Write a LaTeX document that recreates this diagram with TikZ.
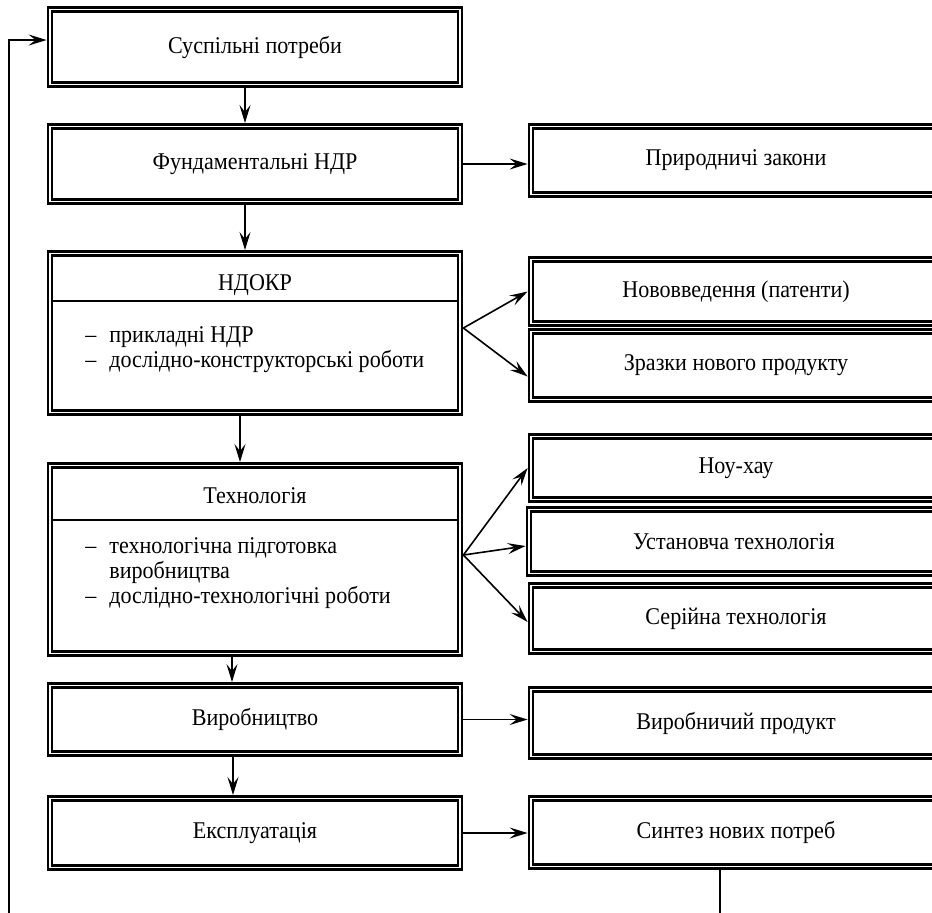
\documentclass[tikz,border=0pt]{standalone}
\usepackage{fontspec}
\setmainfont{Liberation Serif}[FakeStretch=0.92]
\usepackage{tikz}
\usetikzlibrary{arrows.meta}

\begin{document}
\begin{tikzpicture}[x=0.5pt,y=-0.5pt,
  box/.style={draw,double,double distance=0.8pt,line width=1.3pt,inner sep=0pt,
    outer sep=1.7pt,minimum width=205pt,font=\fontsize{12}{12.5}\selectfont},
  txt/.style={inner sep=0pt,align=left,font=\fontsize{12}{12.5}\selectfont},
  arr/.style={-{Stealth[length=9pt,width=5.5pt,inset=3.5pt]},line width=0.8pt}]
\clip (0,0) rectangle (932,912);
% left column
\node[box,minimum height=37.6pt] (sp) at (255,47) {Суспільні потреби};
\node[box,minimum height=37.6pt] (fund) at (255,164) {Фундаментальні НДР};
\node[box,minimum height=79.6pt] (ndokr) at (255,333) {};
\node[box,minimum height=94.1pt] (tech) at (255,559.5) {};
\node[box,minimum height=34.1pt] (vyr) at (255,719.5) {Виробництво};
\node[box,minimum height=34.6pt] (eksp) at (255,833) {Експлуатація};
\node[txt] (ndt) at (255,285) {НДОКР};
\node[txt,anchor=west] (ndl) at (85,350) {\makebox[12pt][l]{–}прикладні НДР\\
  \makebox[12pt][l]{–}дослідно-конструкторські роботи};
\node[txt] (tet) at (255,496) {Технологія};
\node[txt,anchor=west] (tel) at (85,573) {\makebox[12pt][l]{–}технологічна підготовка\\
  \hspace*{12pt}виробництва\\
  \makebox[12pt][l]{–}дослідно-технологічні роботи};
\draw[line width=0.7pt,shorten <=3pt,shorten >=3pt] (ndokr.west |- 0,301) -- (ndokr.east |- 0,301);
\draw[line width=0.7pt,shorten <=3pt,shorten >=3pt] (tech.west |- 0,520) -- (tech.east |- 0,520);
% right column
\node[box,minimum height=34.1pt] (pryr) at (736,160.5) {Природничі закони};
\node[box,minimum height=32.1pt] (nov) at (736,291.5) {Нововведення (патенти)};
\node[box,minimum height=34.1pt] (zr) at (736,365.5) {Зразки нового продукту};
\node[box,minimum height=31.6pt] (nou) at (736,468) {Ноу-хау};
\node[box,minimum height=32.1pt] (ust) at (734,541.5) {Установча технологія};
\node[box,minimum height=33.1pt] (ser) at (736,618.5) {Серійна технологія};
\node[box,minimum height=33.6pt] (vpr) at (736,723) {Виробничий продукт};
\node[box,minimum height=34.1pt] (syn) at (736,832.5) {Синтез нових потреб};
% connectors
\draw[arr] ([xshift=-5pt]sp.south) -- ([xshift=-5pt]fund.north);
\draw[arr] ([xshift=-5pt]fund.south) -- ([xshift=-5pt]ndokr.north);
\draw[arr] ([xshift=-7.5pt]ndokr.south) -- ([xshift=-7.5pt]tech.north);
\draw[arr] ([xshift=-11.5pt]tech.south) -- ([xshift=-11.5pt]vyr.north);
\draw[arr] ([xshift=-11pt]vyr.south) -- ([xshift=-11pt]eksp.north);
\draw[arr] (fund.east) -- (fund.east -| pryr.west);
\coordinate (nd) at ([yshift=2.5pt]ndokr.east);
\draw[arr] (nd) -- (nov.west);
\draw[arr] (nd) -- ([yshift=-5.5pt]zr.west);
\coordinate (te) at ([yshift=2.25pt]tech.east);
\draw[arr] (te) -- (nou.west);
\draw[arr] (te) -- ([yshift=-2.25pt]ust.west);
\draw[arr] (te) -- ([yshift=-1.75pt]ser.west);
\draw[arr] (vyr.east) -- (vyr.east -| vpr.west);
\draw[arr] (eksp.east) -- (eksp.east -| syn.west);
\coordinate (lp) at (9,940);
\draw[arr] ([xshift=-8pt]syn.south) |- (lp) |- ([yshift=3.5pt]sp.west);
\end{tikzpicture}
\end{document}
